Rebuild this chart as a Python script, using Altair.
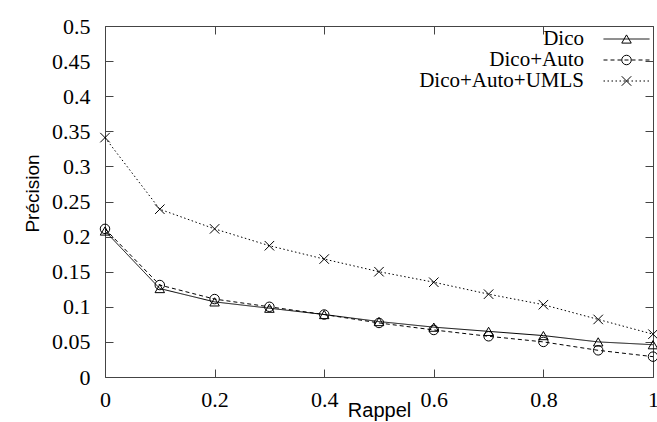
import altair as alt
import pandas as pd

# ---- data ----
recall = [0.0, 0.1, 0.2, 0.3, 0.4, 0.5, 0.6, 0.7, 0.8, 0.9, 1.0]
dico = [0.208, 0.126, 0.107, 0.098, 0.089, 0.079, 0.071, 0.065, 0.059, 0.050, 0.046]
dico_auto = [0.211, 0.131, 0.111, 0.100, 0.089, 0.077, 0.067, 0.058, 0.050, 0.038, 0.029]
dico_auto_umls = [0.341, 0.239, 0.211, 0.187, 0.168, 0.150, 0.135, 0.118, 0.103, 0.082, 0.061]
series_names = ["Dico", "Dico+Auto", "Dico+Auto+UMLS"]
x_ticks = [0, 0.2, 0.4, 0.6, 0.8, 1.0]
y_ticks = [0, 0.05, 0.1, 0.15, 0.2, 0.25, 0.3, 0.35, 0.4, 0.45, 0.5]

rows = []
for name, vals in zip(series_names, [dico, dico_auto, dico_auto_umls]):
    for r, p in zip(recall, vals):
        rows.append({"rappel": r, "precision": p, "serie": name, "marque": name})
df = pd.DataFrame(rows)

SERIF = "Liberation Serif"
SANS = "Liberation Sans"
TICK = "#444444"
LEG_FS = 21

x_bottom = alt.X(
    "rappel:Q",
    scale=alt.Scale(domain=[0, 1], nice=False, zero=False),
    axis=alt.Axis(
        orient="bottom", values=x_ticks, format="~g", title="Rappel",
        grid=False, domain=False, offset=-8, tickSize=8, tickColor=TICK,
        labelPadding=12, labelFont=SERIF, labelFontSize=22, labelColor="black",
        labelFlush=False, titleFont=SANS, titleFontSize=20, titleFontWeight="normal",
        titleColor="black", titleBaseline="alphabetic", titleY=47,
    ),
)
y_left = alt.Y(
    "precision:Q",
    scale=alt.Scale(domain=[0, 0.5], nice=False, zero=False),
    axis=alt.Axis(
        orient="left", values=y_ticks, format="~g", title="Précision",
        grid=False, domain=False, offset=-8, tickSize=8, tickColor=TICK,
        labelPadding=15, labelFont=SERIF, labelFontSize=22, labelColor="black",
        labelFlush=False, titleFont=SANS, titleFontSize=19, titleFontWeight="normal",
        titleColor="black", titleBaseline="alphabetic", titleX=-75, titleY=167,
    ),
)

lines = alt.Chart(df).mark_line(color="black", strokeWidth=1).encode(
    x=x_bottom,
    y=y_left,
    strokeDash=alt.StrokeDash(
        "serie:N",
        scale=alt.Scale(range=[[1, 0], [4, 3], [1.5, 2.5]]),
        legend=alt.Legend(
            orient="none", legendX=511, legendY=2.5, title=None,
            symbolType="M-4.6,0H4.6", symbolSize=100, symbolStrokeWidth=1,
            symbolStrokeColor="black", symbolFillColor="transparent",
            labelAlign="right", labelOffset={"expr": "-53"},
            labelFont=SERIF, labelFontSize=LEG_FS, labelColor="black", labelLimit=400,
            rowPadding=-3, padding=0,
        ),
    ),
)

points = alt.Chart(df).mark_point(filled=False, color="black", size=90, strokeWidth=1, opacity=1).encode(
    x=alt.X(
        "rappel:Q",
        axis=alt.Axis(orient="top", values=x_ticks, labels=False, title=None, grid=False,
                      domain=False, offset=-8, tickSize=8, tickColor=TICK),
    ),
    y=alt.Y(
        "precision:Q",
        axis=alt.Axis(orient="right", values=y_ticks, labels=False, title=None, grid=False,
                      domain=False, offset=-8, tickSize=8, tickColor=TICK),
    ),
    shape=alt.Shape(
        "marque:N",
        scale=alt.Scale(range=["triangle-up", "circle", "M-1,-1L1,1M-1,1L1,-1"]),
        legend=alt.Legend(
            orient="none", legendX=511, legendY=2.5, title=None,
            symbolSize=90, symbolStrokeWidth=1, symbolStrokeColor="black",
            symbolFillColor="transparent", labelOpacity=0,
            labelAlign="right", labelOffset={"expr": "-53"},
            labelFont=SERIF, labelFontSize=LEG_FS, labelLimit=400,
            rowPadding=-3, padding=0,
        ),
    ),
)

chart = (
    alt.layer(lines, points)
    .resolve_axis(x="independent", y="independent")
    .properties(
        width=548, height=351,
        autosize=alt.AutoSizeParams(type="none"),
        padding={"left": 105, "top": 26, "right": 4, "bottom": 45},
        background="white",
    )
    .configure_view(stroke="#444444", strokeWidth=1)
)

chart.save("out.html", embed_options={"renderer": "svg", "actions": False})
